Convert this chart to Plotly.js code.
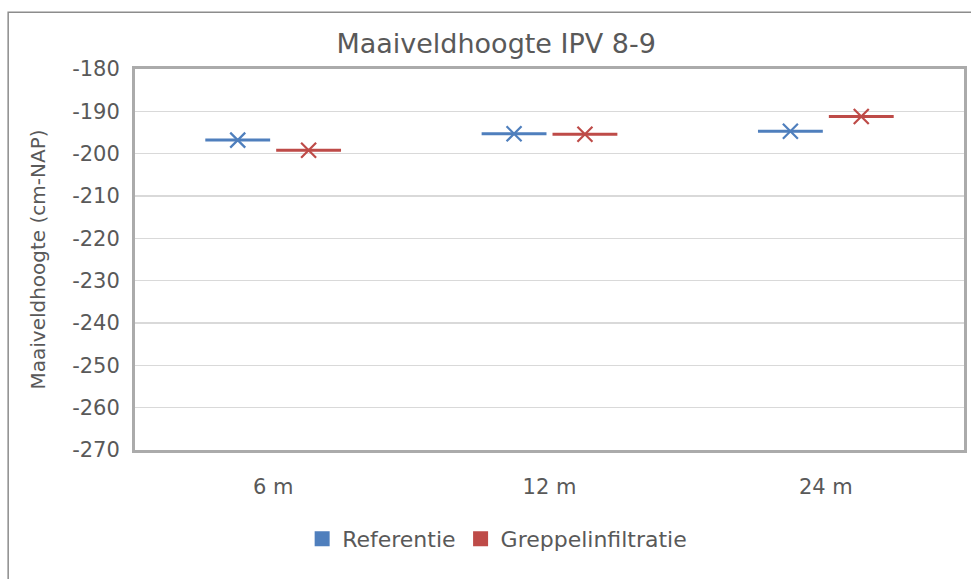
<!DOCTYPE html>
<html>
<head>
<meta charset="utf-8">
<script src="https://cdn.plot.ly/plotly-3.0.1.min.js"></script>
<style>
html,body{margin:0;padding:0;background:#fff;}
#chart{width:971px;height:579px;}
</style>
</head>
<body>
<div id="chart"></div>
<script>
var categories = ['6 m', '12 m', '24 m'];
var referentie = [-196.8, -195.3, -194.7];
var greppelinfiltratie = [-199.2, -195.4, -191.2];
var yTicks = [-180, -190, -200, -210, -220, -230, -240, -250, -260, -270];

var seriesNames = ['Referentie', 'Greppelinfiltratie'];
var seriesValues = [referentie, greppelinfiltratie];
var seriesColors = ['#4f7fbd', '#be4b48'];

var traces = seriesNames.map(function (name, i) {
  return {
    type: 'box',
    name: name,
    x: categories,
    y: seriesValues[i],
    boxpoints: 'all',
    jitter: 0,
    pointpos: 0,
    fillcolor: seriesColors[i],
    line: {color: seriesColors[i], width: 3},
    whiskerwidth: 0,
    marker: {
      symbol: 'x-thin-open',
      size: 15,
      color: seriesColors[i],
      line: {color: seriesColors[i], width: 2.2}
    },
    hoverinfo: 'skip'
  };
});

var fontFam = '"DejaVu Sans", Verdana, sans-serif';

var layout = {
  width: 971,
  height: 579,
  margin: {l: 135, r: 7, t: 69, b: 129},
  paper_bgcolor: '#ffffff',
  plot_bgcolor: '#ffffff',
  boxmode: 'group',
  boxgap: 0.487,
  boxgroupgap: 0.085,
  font: {family: fontFam, color: '#595959', size: 20},
  title: {
    text: 'Maaiveldhoogte IPV 8-9',
    font: {family: fontFam, size: 27, color: '#595959'},
    xref: 'container', x: 0.511, xanchor: 'center',
    yref: 'container', y: 0.924, yanchor: 'middle'
  },
  xaxis: {
    type: 'category',
    categoryorder: 'array',
    categoryarray: categories,
    range: [-0.5, 2.5],
    showgrid: false,
    zeroline: false,
    showline: true,
    mirror: true,
    linecolor: '#ababab',
    linewidth: 3,
    ticks: '',
    tickfont: {size: 21, color: '#595959'},
    ticklabelstandoff: 16
  },
  yaxis: {
    range: [-270, -180],
    tickmode: 'array',
    tickvals: yTicks,
    ticktext: yTicks.map(function (v) { return String(v); }),
    showgrid: true,
    gridcolor: '#d9d9d9',
    gridwidth: 1.5,
    zeroline: false,
    showline: true,
    mirror: true,
    linecolor: '#ababab',
    linewidth: 3,
    ticks: '',
    ticklabelstandoff: 8,
    tickfont: {size: 21, color: '#595959'},
    title: {
      text: 'Maaiveldhoogte (cm-NAP)',
      font: {size: 20, color: '#595959'},
      standoff: 22
    }
  },
  showlegend: true,
  legend: {
    orientation: 'h',
    xref: 'container', x: 0.512, xanchor: 'center',
    yref: 'container', y: 0.069, yanchor: 'middle',
    font: {size: 22, color: '#595959'},
    itemwidth: 30,
    traceorder: 'normal'
  },
  shapes: [
    {
      type: 'rect', xref: 'paper', yref: 'paper',
      x0: -0.153, x1: 1.01, y0: -0.4, y1: 1.149,
      line: {color: '#8c8c8c', width: 1.5},
      fillcolor: 'rgba(0,0,0,0)',
      layer: 'below'
    }
  ]
};

Plotly.newPlot('chart', traces, layout, {displayModeBar: false, staticPlot: true});
</script>
</body>
</html>
